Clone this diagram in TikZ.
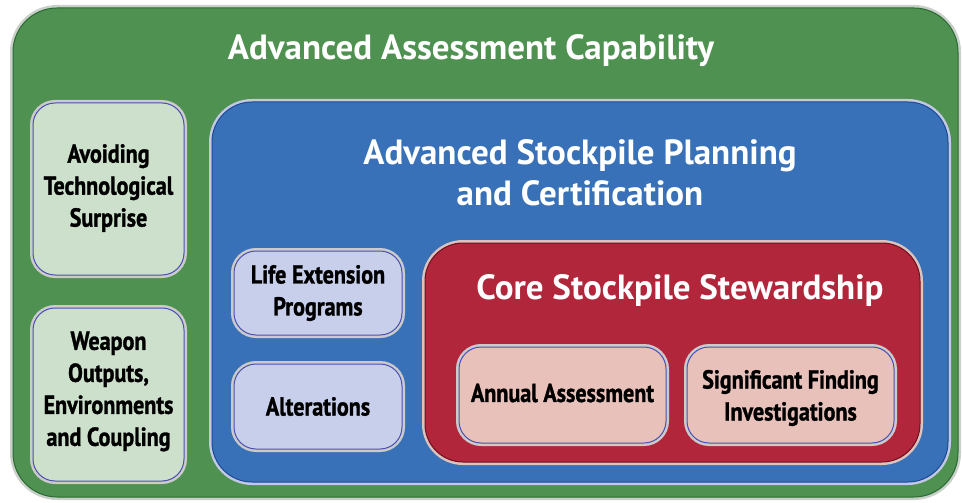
\documentclass[tikz,border=0pt]{standalone}
\usepackage{fontspec}
\setmainfont{PT Sans}
\newfontfamily\condf[FakeStretch=0.85, BoldFeatures={FakeBold=1.2}]{PT Sans}
\definecolor{gfill}{HTML}{4E9150}
\definecolor{gline}{HTML}{2A6A33}
\definecolor{gouter}{HTML}{C9CFC9}
\definecolor{bfill}{HTML}{3871B7}
\definecolor{bline}{HTML}{1C4B98}
\definecolor{bouter}{HTML}{C3C8E2}
\definecolor{rfill}{HTML}{B1263B}
\definecolor{rline}{HTML}{701020}
\definecolor{router}{HTML}{DCC3BE}
\definecolor{lgreen}{HTML}{CCE0CB}
\definecolor{lblue}{HTML}{C8CFEA}
\definecolor{lpink}{HTML}{E9C1BB}
\definecolor{sline}{HTML}{4A50B0}
\definecolor{souter}{HTML}{CBCBCB}
\tikzset{
  layer/.style n args={4}{preaction={draw=#3, line width=6pt},
     fill=#2, draw=#4, line width=1pt, rounded corners=#1,
     rectangle, inner sep=0pt, outer sep=0pt},
  wtitle/.style={text=white, font=\bfseries\fontsize{35}{41}\selectfont, align=center},
  btext/.style={text=black, font=\condf\bfseries\fontsize{26}{32}\selectfont, align=center},
}
\begin{document}
\begin{tikzpicture}[x=1pt,y=-1pt]
\useasboundingbox (0,0) rectangle (962,503);
% green outer
\node[layer={44pt}{gfill}{gouter}{gline}, minimum width=945pt, minimum height=489pt] (green) at (485.5,252.5) {};
\node[wtitle, anchor=base] (gtitle) at (471,59.5) {Advanced Assessment Capability};
% left boxes
\node[layer={22pt}{lgreen}{souter}{sline}, minimum width=151pt, minimum height=172pt] (avoid) at (108.5,189) {};
\node[btext] (avoidt) at ([yshift=1pt]avoid.center) {Avoiding\\Technological\\Surprise};
\node[layer={22pt}{lgreen}{souter}{sline}, minimum width=151pt, minimum height=173pt] (weapon) at (108.5,394.5) {};
\node[btext] (weapont) at ([yshift=3pt]weapon.center) {Weapon\\Outputs,\\Environments\\and Coupling};
% blue
\node[layer={40pt}{bfill}{bouter}{bline}, minimum width=736pt, minimum height=380pt] (blue) at (580,292) {};
\node[wtitle, anchor=base] (btitle) at (580,205.5) {Advanced Stockpile Planning\\and Certification};
\node[layer={22pt}{lblue}{souter}{sline}, minimum width=168pt, minimum height=84pt] (life) at (318,293) {};
\node[btext] (lifet) at (life.center) {Life Extension\\Programs};
\node[layer={22pt}{lblue}{souter}{sline}, minimum width=168pt, minimum height=85pt] (alt) at (318,406.5) {};
\node[btext] (altt) at (alt.center) {Alterations};
% red
\node[layer={38pt}{rfill}{router}{rline}, minimum width=495pt, minimum height=219pt] (red) at (672.5,352.5) {};
\node[wtitle, anchor=base] (rtitle) at (680,299.5) {Core Stockpile Stewardship};
\node[layer={22pt}{lpink}{souter}{sline}, minimum width=207pt, minimum height=96pt] (annual) at (562.5,395) {};
\node[btext] (annualt) at ([yshift=2pt]annual.center) {Annual Assessment};
\node[layer={22pt}{lpink}{souter}{sline}, minimum width=207pt, minimum height=96pt] (sig) at (790.5,395) {};
\node[btext] (sigt) at ([yshift=-3pt]sig.center) {Significant Finding\\Investigations};
\end{tikzpicture}
\end{document}
